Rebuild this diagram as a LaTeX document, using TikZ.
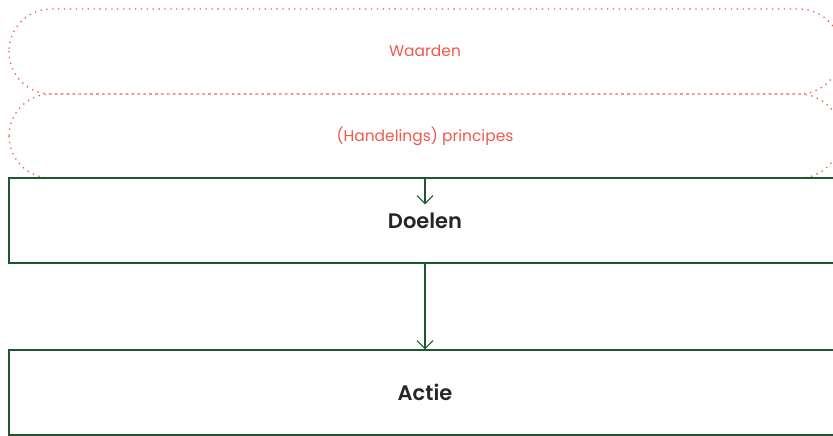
\documentclass[tikz,border=0pt]{standalone}
\usepackage{fontspec}
\setmainfont{Poppins}
\newfontfamily\semib{Poppins SemiBold}
\usetikzlibrary{arrows.meta}
\definecolor{salmon}{HTML}{F0584A}
\definecolor{pine}{HTML}{1E5631}
\definecolor{ink}{HTML}{262626}
\tikzset{
  x=1pt, y=-1pt,
  layer/.style={draw=salmon, line width=1.3pt, dash pattern=on 1.3pt off 4.6pt,
    rounded corners=42pt},
  layertext/.style={text=salmon, font=\fontsize{15.5}{18}\selectfont},
  stage/.style={draw=pine, line width=1.2pt, minimum width=832pt, minimum height=85pt,
    inner sep=0pt, text=ink, font=\fontsize{21}{25}\semib},
  flow/.style={draw=pine, line width=1.1pt, -{Straight Barb[length=8pt,width=16pt]}},
}
\begin{document}
\begin{tikzpicture}
\useasboundingbox (0,0) rectangle (833,436);
% stacked layers of values and principles, cut off at the right edge
\draw[layer] (9,9) rectangle (841,94);
\draw[layer] (9,94) rectangle (841,178);
\node[layertext] (w) at (425,51) {Waarden};
\node[layertext] (p) at (425,136) {(Handelings) principes};
% goal and action stages
\node[stage] (d) at (425,220.5) {Doelen};
\node[stage] (a) at (425,392.5) {Actie};
\draw[flow] (d.north) -- ++(0,27);
\draw[flow] (d.south) -- (a.north);
\end{tikzpicture}
\end{document}
